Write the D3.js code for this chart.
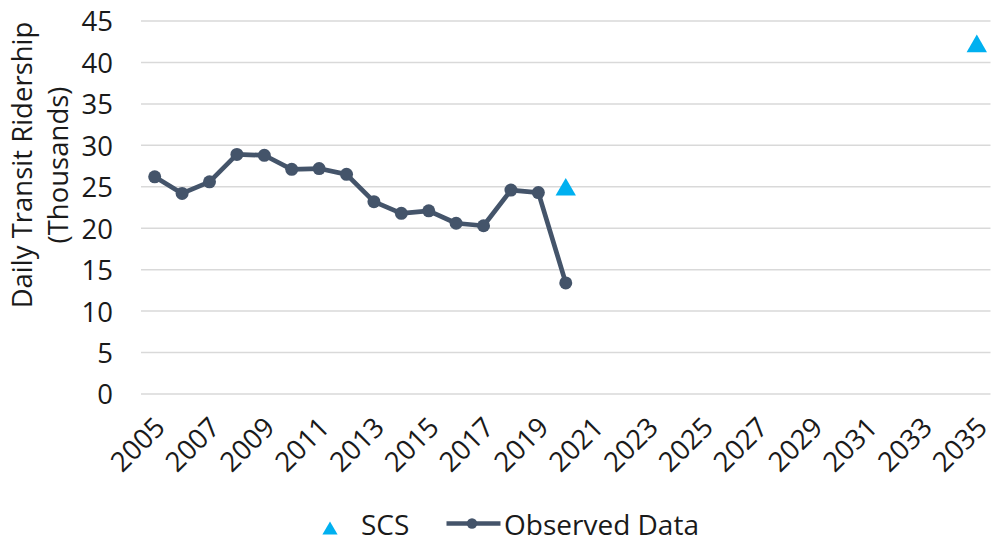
<!DOCTYPE html>
<html><head><meta charset="utf-8">
<script src="https://cdn.jsdelivr.net/npm/d3@7"></script>
<style>body{margin:0;background:#fff}svg{display:block}text{font-family:"Open Sans",sans-serif;fill:#1a1a1a}</style>
</head><body><svg id="c" width="995" height="542"></svg>
<script>
const years = d3.range(2005, 2036).map(String);
const tickLabels = ["2005","2007","2009","2011","2013","2015","2017","2019","2021","2023","2025","2027","2029","2031","2033","2035"];
const yTicks = [0,5,10,15,20,25,30,35,40,45];
const observedYears = ["2005","2006","2007","2008","2009","2010","2011","2012","2013","2014","2015","2016","2017","2018","2019","2020"];
const observedValues = [26.2,24.2,25.6,28.9,28.8,27.1,27.2,26.5,23.2,21.8,22.1,20.6,20.3,24.6,24.3,13.4];
const scsYears = ["2020","2035"];
const scsValues = [25.0,42.3];

const svg = d3.select("#c");
const m = {l:141, r:4.5, t:21, b:148};
const W = 995, H = 542;
const FS = "27.5px";
const x = d3.scaleBand().domain(years).range([m.l, W - m.r]);
const y = d3.scaleLinear().domain([0,45]).range([H - m.b, m.t]);
const cx = d => x(d) + x.bandwidth()/2;

// grid
svg.append("g").selectAll("line").data(yTicks).join("line")
  .attr("x1", m.l).attr("x2", W - m.r)
  .attr("y1", d => y(d)).attr("y2", d => y(d))
  .attr("stroke", "#d9d9d9").attr("stroke-width", 1.5);

// y axis
const ya = svg.append("g").attr("transform", `translate(${m.l},0)`)
  .call(d3.axisLeft(y).tickValues(yTicks).tickSize(0).tickPadding(28));
ya.select(".domain").remove();
ya.selectAll("text").style("font-size",FS).attr("dy","0.36em").style("font-family","'Open Sans',sans-serif").style("fill","#1a1a1a");

// x axis
const xa = svg.append("g").attr("transform", `translate(0,${y(0)})`)
  .call(d3.axisBottom(x).tickValues(tickLabels).tickSize(0).tickPadding(0));
xa.select(".domain").remove();
xa.selectAll("text").style("font-size",FS).style("font-family","'Open Sans',sans-serif").style("fill","#1a1a1a")
  .attr("text-anchor","end")
  .attr("transform","translate(12,35) rotate(-45)")
  .attr("dy","0").attr("y",0).attr("x",0);

// y title
const yt = svg.append("text").attr("transform","translate(0,165) rotate(-90)")
  .attr("text-anchor","middle").style("font-size",FS);
yt.append("tspan").attr("x",0).attr("y",32).text("Daily Transit Ridership");
yt.append("tspan").attr("x",0).attr("y",68).text("(Thousands)");

// observed line
const col = "#44546a";
const obs = observedYears.map((d,i)=>[d,observedValues[i]]);
svg.append("path").datum(obs)
  .attr("fill","none").attr("stroke",col).attr("stroke-width",4.7).attr("stroke-linejoin","round")
  .attr("d", d3.line().x(d=>cx(d[0])).y(d=>y(d[1])));
svg.append("g").selectAll("circle").data(obs).join("circle")
  .attr("cx", d=>cx(d[0])).attr("cy", d=>y(d[1])).attr("r",6.5).attr("fill",col);

// SCS triangles (bbox centred on value)
const triSize = 180, triH = Math.sqrt(triSize / 0.433) * 0.866;
const tri = d3.symbol().type(d3.symbolTriangle).size(triSize);
svg.append("g").selectAll("path").data(scsYears.map((d,i)=>[d,scsValues[i]])).join("path")
  .attr("d", tri).attr("fill","#00b0f0")
  .attr("transform", d=>`translate(${cx(d[0])},${y(d[1]) + triH/6})`);

// legend
const ly = 523.5;
const lTri = 100, lTriH = Math.sqrt(lTri / 0.433) * 0.866;
svg.append("path").attr("d", d3.symbol().type(d3.symbolTriangle).size(lTri)).attr("fill","#00b0f0")
  .attr("transform",`translate(330,${528 + lTriH/6})`);
svg.append("text").attr("x",361).attr("y",535).style("font-size","28px").text("SCS");
svg.append("line").attr("x1",446.5).attr("x2",500.5).attr("y1",ly).attr("y2",ly).attr("stroke",col).attr("stroke-width",4.7);
svg.append("circle").attr("cx",472).attr("cy",ly).attr("r",5.2).attr("fill",col);
svg.append("text").attr("x",504).attr("y",535).style("font-size","28px").text("Observed Data");
</script></body></html>
